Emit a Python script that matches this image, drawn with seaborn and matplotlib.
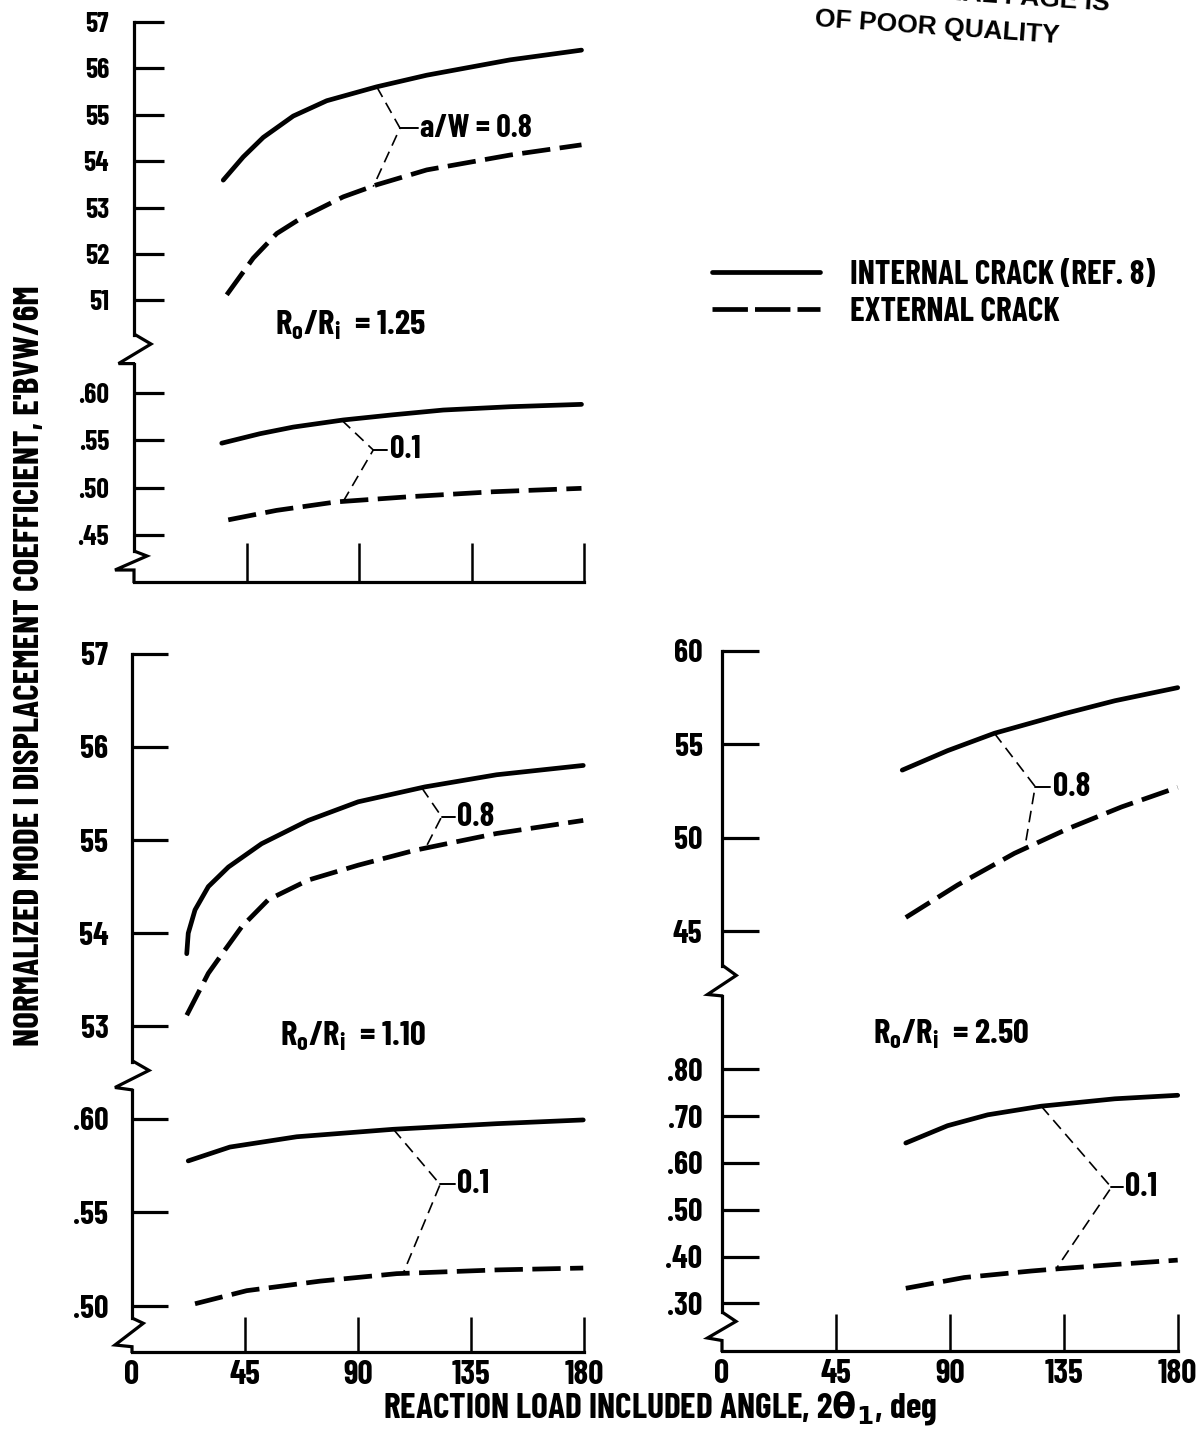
import matplotlib
matplotlib.use("Agg")
import matplotlib.pyplot as plt
import matplotlib.transforms as mtransforms
from matplotlib.lines import Line2D
import pandas as pd
import seaborn as sns

# ------------------------------------------------------------------ data
# Ro/Ri = 1.25
r125_int08_x = [35.7, 43.7, 51.7, 63.7, 77.1, 97.1, 117.1, 150.4, 179.0]
r125_int08_y = [53.59, 54.09, 54.51, 54.97, 55.30, 55.60, 55.85, 56.18, 56.39]
r125_ext08_x = [37.1, 47.7, 57.1, 67.7, 83.7, 97.1, 117.1, 150.4, 179.0]
r125_ext08_y = [51.12, 51.91, 52.44, 52.80, 53.23, 53.49, 53.81, 54.13, 54.35]
r125_int01_x = [35.1, 50.4, 63.7, 83.7, 103.7, 123.7, 150.4, 179.0]
r125_int01_y = [0.547, 0.557, 0.564, 0.5715, 0.577, 0.582, 0.5855, 0.588]
r125_ext01_x = [37.7, 57.0, 81.0, 110.4, 143.7, 179.0]
r125_ext01_y = [0.466, 0.476, 0.485, 0.4905, 0.4957, 0.4993]

# Ro/Ri = 1.10
r110_int08_x = [21.8, 22.4, 25.1, 30.4, 38.4, 51.6, 70.2, 90.1, 116.7, 145.2, 179.7]
r110_int08_y = [53.78, 54.00, 54.25, 54.50, 54.71, 54.96, 55.21, 55.41, 55.57, 55.70, 55.80]
r110_ext08_x = [21.8, 30.4, 37.0, 43.7, 54.3, 70.2, 90.1, 112.7, 145.2, 179.7]
r110_ext08_y = [53.12, 53.57, 53.82, 54.07, 54.36, 54.57, 54.73, 54.89, 55.07, 55.21]
r110_int01_x = [22.4, 39.0, 65.6, 104.1, 145.2, 179.7]
r110_int01_y = [0.5776, 0.585, 0.5905, 0.5945, 0.5975, 0.5995]
r110_ext01_x = [25.1, 45.7, 74.9, 105.4, 145.2, 179.7]
r110_ext01_y = [0.5012, 0.5082, 0.5133, 0.5173, 0.5193, 0.5203]

# Ro/Ri = 2.50
r250_int08_x = [71.2, 89.1, 107.6, 135.3, 155.2, 180.0]
r250_int08_y = [53.63, 54.67, 55.60, 56.65, 57.34, 58.04]
r250_ext08_x = [72.6, 93.1, 115.5, 136.7, 157.8, 180.0]
r250_ext08_y = [45.75, 47.49, 49.18, 50.50, 51.66, 52.71]
r250_int01_x = [72.6, 89.1, 105.0, 126.1, 155.2, 180.0]
r250_int01_y = [0.6427, 0.6797, 0.703, 0.7214, 0.7372, 0.7447]
r250_ext01_x = [72.6, 95.7, 122.1, 132.7, 155.2, 180.0]
r250_ext01_y = [0.3323, 0.3553, 0.3692, 0.3739, 0.3831, 0.3925]

x_ticks = [0, 45, 90, 135, 180]
x_ticklabels = ["0", "45", "90", "135", "180"]
r125_hi_ticks = [51, 52, 53, 54, 55, 56, 57]
r125_hi_labels = ["51", "52", "53", "54", "55", "56", "57"]
r125_lo_ticks = [0.45, 0.50, 0.55, 0.60]
r125_lo_labels = [".45", ".50", ".55", ".60"]
r110_hi_ticks = [53, 54, 55, 56, 57]
r110_hi_labels = ["53", "54", "55", "56", "57"]
r110_lo_ticks = [0.50, 0.55, 0.60]
r110_lo_labels = [".50", ".55", ".60"]
r250_hi_ticks = [45, 50, 55, 60]
r250_hi_labels = ["45", "50", "55", "60"]
r250_lo_ticks = [0.30, 0.40, 0.50, 0.60, 0.70, 0.80]
r250_lo_labels = [".30", ".40", ".50", ".60", ".70", ".80"]

crack_types = ["INTERNAL CRACK (REF. 8)", "EXTERNAL CRACK"]
x_label = r"REACTION LOAD INCLUDED ANGLE, 2$\mathbf{\theta_1}$, deg"
y_label = "NORMALIZED MODE I DISPLACEMENT COEFFICIENT, E'BVW/6M"

# ------------------------------------------------------------------ style
sns.set_style("white")
FAM = ["Barlow Condensed", "Liberation Sans Narrow", "DejaVu Sans"]
plt.rcParams["font.family"] = FAM
plt.rcParams["font.weight"] = "bold"
plt.rcParams["mathtext.fontset"] = "custom"
plt.rcParams["mathtext.rm"] = "Barlow Condensed:bold"
plt.rcParams["mathtext.bf"] = "Barlow Condensed:bold"
plt.rcParams["mathtext.it"] = "Barlow Condensed:bold"
plt.rcParams["mathtext.default"] = "rm"
plt.rcParams["text.color"] = "black"
plt.rcParams["xtick.color"] = "black"
plt.rcParams["ytick.color"] = "black"

W, H = 1202, 1430
fig = plt.figure(figsize=(W / 100, H / 100), dpi=100)
fig.patch.set_facecolor("white")
PX = mtransforms.Affine2D().scale(1 / W, -1 / H).translate(0, 1) + fig.transFigure

AX_LW = 2.3
CURVE_LW = 3.4
DASH = (6, 2)


def frame_line(xs, ys):
    fig.add_artist(Line2D(xs, ys, transform=PX, color="black", lw=AX_LW,
                          solid_joinstyle="miter", solid_capstyle="butt"))


def make_axes(x0, x1, ytop, ybot, v_ref, y_ref, px_per_unit):
    ax = fig.add_axes([x0 / W, 1 - ybot / H, (x1 - x0) / W, (ybot - ytop) / H])
    ax.set_facecolor("none")
    ax.set_xlim(0, 180)
    vtop = v_ref + (y_ref - ytop) / px_per_unit
    vbot = v_ref - (ybot - y_ref) / px_per_unit
    ax.set_ylim(vbot, vtop)
    for s in ax.spines.values():
        s.set_visible(False)
    ax.spines["left"].set_visible(True)
    ax.spines["left"].set_linewidth(AX_LW)
    ax.spines["left"].set_color("black")
    return ax, (lambda ypx: v_ref - (ypx - y_ref) / px_per_unit)


def draw_curves(ax, int_x, int_y, ext_x, ext_y):
    df = pd.concat([
        pd.DataFrame({"angle": int_x, "value": int_y, "crack": crack_types[0]}),
        pd.DataFrame({"angle": ext_x, "value": ext_y, "crack": crack_types[1]}),
    ], ignore_index=True)
    sns.lineplot(data=df, x="angle", y="value", style="crack", units="crack",
                 estimator=None, sort=False, color="black", lw=CURVE_LW,
                 dashes={crack_types[0]: "", crack_types[1]: DASH},
                 legend=False, ax=ax, clip_on=False)
    for ln in ax.lines:
        ln.set_solid_capstyle("round")
        ln.set_solid_joinstyle("round")
    ax.set_xlabel("")
    ax.set_ylabel("")


def leader(ax, top, junc, bot, tick_end, text, text_x, size):
    ax.plot([top[0], junc[0], bot[0]], [top[1], junc[1], bot[1]], color="black",
            lw=1.2, dashes=(7, 4), clip_on=False)
    ax.plot([junc[0], tick_end], [junc[1], junc[1]], color="black", lw=1.4,
            clip_on=False)
    ax.text(text_x, junc[1], text, ha="left", va="center", fontsize=size,
            fontweight="bold")


def panel(x0, x1, hi, lo, ztop, zbot, ytick_len, xtick_len, ylabsize, ypad,
          show_xlabels):
    ax_hi, _ = make_axes(x0, x1, *hi)
    ax_lo, lo_val = make_axes(x0, x1, *lo)
    ax_hi.set_xticks([])
    ax_lo.spines["left"].set_bounds(lo_val(zbot[0][1]), ax_lo.get_ylim()[1])
    ax_lo.spines["bottom"].set_visible(True)
    ax_lo.spines["bottom"].set_linewidth(AX_LW)
    ax_lo.spines["bottom"].set_color("black")
    for a in (ax_hi, ax_lo):
        a.tick_params(axis="y", direction="in", length=ytick_len, width=AX_LW,
                      pad=ypad, labelsize=ylabsize, left=True)
    ax_lo.set_xticks(x_ticks, labels=x_ticklabels if show_xlabels else [""] * 5)
    ax_lo.tick_params(axis="x", direction="in", length=xtick_len, width=1.8,
                      pad=6, labelsize=24, bottom=True)
    ax_lo.xaxis.get_major_ticks()[0].tick1line.set_visible(False)
    frame_line([p[0] for p in ztop], [p[1] for p in ztop])
    frame_line([p[0] for p in zbot], [p[1] for p in zbot])
    return ax_hi, ax_lo


def bold_ticks(*axes):
    for a in axes:
        for t in a.get_yticklabels() + a.get_xticklabels():
            t.set_fontweight("bold")


# ---------------------------------------------------------- panel Ro/Ri=1.25
A_hi, A_lo = panel(
    134, 584,
    (21.8, 335.0, 57, 21.8, 46.43),
    (363.6, 582.0, 0.60, 393.0, 946.7),
    [(134, 334), (151, 344), (118.5, 363.6), (135, 363.6)],
    [(134, 551), (147, 556), (115, 570), (134, 570), (134, 583)],
    21.5, 28, 20, 18, False)
A_hi.set_yticks(r125_hi_ticks, labels=r125_hi_labels)
A_lo.set_yticks(r125_lo_ticks, labels=r125_lo_labels)
draw_curves(A_hi, r125_int08_x, r125_int08_y, r125_ext08_x, r125_ext08_y)
draw_curves(A_lo, r125_int01_x, r125_int01_y, r125_ext01_x, r125_ext01_y)
leader(A_hi, (97.1, 55.60), (106.4, 54.71), (95.7, 53.45), 113.7, "a/W = 0.8", 114.4, 23)
leader(A_lo, (83.1, 0.5713), (95.7, 0.5398), (83.7, 0.4855), 101.1, "0.1", 102.4, 23)
A_hi.text(56.4, 50.27, r"R$_\mathrm{o}$/R$_\mathrm{i}$  = 1.25", ha="left",
          va="baseline", fontsize=25, fontweight="bold", clip_on=False)

# ---------------------------------------------------------- panel Ro/Ri=1.10
B_hi, B_lo = panel(
    132, 584,
    (653.6, 1061.6, 57, 653.6, 93.2),
    (1090.0, 1352.0, 0.60, 1119.0, 1870.0),
    [(132, 1060.6), (149, 1070.4), (115, 1087.5), (133, 1090)],
    [(132, 1318), (143.3, 1323.3), (115, 1345), (132, 1346.7), (132, 1353)],
    26, 25, 23, 17, True)
B_hi.set_yticks(r110_hi_ticks, labels=r110_hi_labels)
B_lo.set_yticks(r110_lo_ticks, labels=r110_lo_labels)
draw_curves(B_hi, r110_int08_x, r110_int08_y, r110_ext08_x, r110_ext08_y)
draw_curves(B_lo, r110_int01_x, r110_int01_y, r110_ext01_x, r110_ext01_y)
leader(B_hi, (115.4, 55.56), (123.3, 55.25), (117.4, 54.94), 128.6, "0.8", 129.3, 24)
leader(B_lo, (104.1, 0.5945), (122.7, 0.565), (108.0, 0.5175), 128.6, "0.1", 129.3, 24)
B_hi.text(58.9, 52.79, r"R$_\mathrm{o}$/R$_\mathrm{i}$  = 1.10", ha="left",
          va="baseline", fontsize=25, fontweight="bold", clip_on=False)

# ---------------------------------------------------------- panel Ro/Ri=2.50
C_hi, C_lo = panel(
    722, 1177.7,
    (651.0, 966.0, 60, 651.0, 18.7),
    (996.0, 1351.0, 0.80, 1069.4, 468.0),
    [(722, 965), (736.3, 975.4), (707.5, 994.5), (723, 996)],
    [(722, 1312), (736, 1321.4), (707.5, 1338), (722, 1340.5), (722, 1352)],
    26.5, 27, 23, 14, True)
C_hi.set_yticks(r250_hi_ticks, labels=r250_hi_labels)
C_lo.set_yticks(r250_lo_ticks, labels=r250_lo_labels)
draw_curves(C_hi, r250_int08_x, r250_int08_y, r250_ext08_x, r250_ext08_y)
draw_curves(C_lo, r250_int01_x, r250_int01_y, r250_ext01_x, r250_ext01_y)
leader(C_hi, (107.6, 55.60), (123.7, 52.75), (119.5, 49.40), 129.4, "0.8", 130.7, 24)
leader(C_lo, (126.1, 0.7214), (153.8, 0.548), (132.0, 0.374), 158.5, "0.1", 159.1, 24)
C_lo.text(59.7, 0.856, r"R$_\mathrm{o}$/R$_\mathrm{i}$  = 2.50", ha="left",
          va="baseline", fontsize=25, fontweight="bold", clip_on=False)

bold_ticks(A_hi, A_lo, B_hi, B_lo, C_hi, C_lo)

# ---------------------------------------------------------- labels & legend
fig.text(30 / W, 1 - 666 / H, y_label, rotation=90, ha="center", va="center",
         fontsize=25.5, fontweight="bold")
fig.text(660 / W, 1 - 1408 / H, x_label, ha="center", va="center",
         fontsize=25.5, fontweight="bold", math_fontfamily="dejavusans")

handles = [Line2D([], [], color="black", lw=CURVE_LW),
           Line2D([], [], color="black", lw=CURVE_LW, dashes=(7.5, 1.5))]
fig.legend(handles, crack_types, loc="upper left",
           bbox_to_anchor=(712 / W, 1 - 260 / H), frameon=False,
           handlelength=3.25, handletextpad=0.9, labelspacing=0.2,
           borderpad=0, borderaxespad=0,
           prop={"family": FAM, "weight": "bold", "size": 24})

fig.text(937 / W, 1 - 28 / H, "OF POOR QUALITY", rotation=-4, ha="center",
         va="center", fontsize=19, fontweight="bold",
         family=["Liberation Sans", "DejaVu Sans"])
fig.text(990 / W, 1 + 5 / H, "ORIGINAL PAGE IS", rotation=-4, ha="center",
         va="center", fontsize=19, fontweight="bold",
         family=["Liberation Sans", "DejaVu Sans"])

fig.savefig("out.png", dpi=100, facecolor="white")
